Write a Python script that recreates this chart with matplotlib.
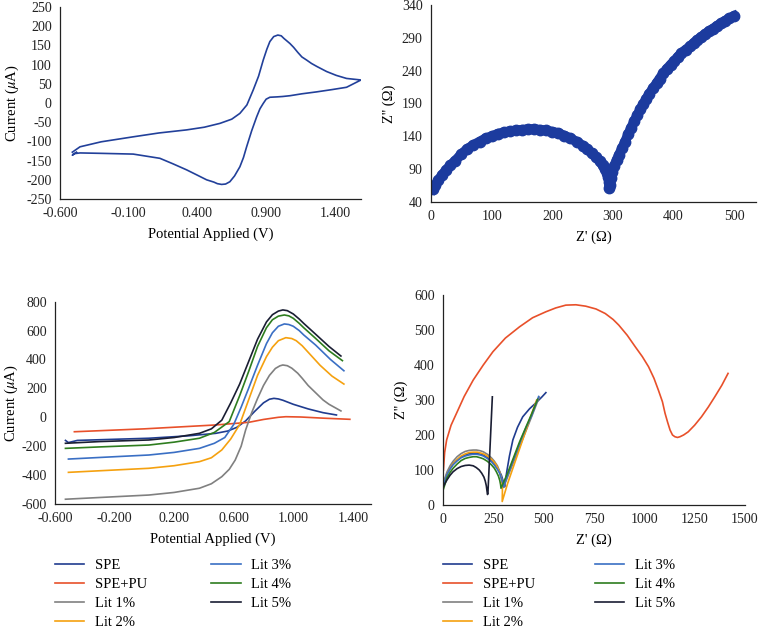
import matplotlib
matplotlib.use('Agg')
import matplotlib.pyplot as plt
from matplotlib.ticker import FormatStrFormatter

# ---- data ----
# (a) single CV scan, forward then reverse
cv_v = [-0.51, -0.454, -0.3, -0.067, 0.12, 0.321, 0.45, 0.564, 0.65, 0.709, 0.76, 0.806, 0.845, 0.879,
        0.905, 0.927, 0.955, 0.985, 1.01, 1.03, 1.05, 1.073, 1.1, 1.13, 1.16, 1.194, 1.23, 1.27, 1.34,
        1.41, 1.485, 1.59,
        1.485, 1.38, 1.267, 1.16, 1.073, 1.02, 0.98, 0.927, 0.9, 0.879, 0.855, 0.831, 0.795, 0.758, 0.735,
        0.709, 0.67, 0.636, 0.605, 0.576, 0.545, 0.52, 0.467, 0.4, 0.321, 0.22, 0.127, -0.067, -0.309,
        -0.454, -0.5, -0.51, -0.48]
cv_i = [-128, -114, -101, -88, -78, -70, -63, -53, -42, -27, -5, 34, 70, 112,
        140, 160, 173, 177, 175, 168, 162, 155, 145, 132, 120, 112, 103, 95, 82,
        72, 64, 60,
        41, 35, 29, 24, 19, 17, 16, 15, 10, -1, -15, -36, -72, -114, -142,
        -166, -190, -205, -211, -212, -210, -206, -200, -188, -174, -158, -144, -133, -131,
        -130, -132, -136, -128]

# (b) Nyquist plot of bare electrode
eis_zr = [3, 7, 12, 18, 25, 32, 40, 50, 60, 70, 80, 90, 100, 110, 120, 130, 140, 150, 160, 170, 180, 190,
          200, 210, 220, 230, 240, 250, 258, 265, 272, 278, 283, 287, 290, 292, 294, 294,
          295, 297, 299, 302, 306, 310, 315, 320, 325, 330, 335, 340, 345, 350, 355, 360, 366, 372,
          377, 383, 389, 395, 401, 407, 413, 420, 427, 433, 439, 445, 452, 458, 465, 471, 478, 485, 492, 499]
eis_zi = [60, 66, 73, 81, 89, 96, 103, 113, 121, 127, 132, 137, 140, 144, 146, 148, 149, 150, 151, 151, 150, 149,
          147, 145, 141, 137, 132, 126, 120, 114, 108, 102, 96, 90, 84, 78, 70, 62,
          66, 76, 86, 95, 104, 112, 122, 132, 143, 153, 163, 172, 181, 189, 197, 205, 213, 221,
          228, 236, 243, 249, 255, 261, 267, 272, 277, 282, 287, 291, 296, 300, 304, 308, 312, 316, 320, 323]

# (c) CV of the different electrodes
labels = ['SPE', 'SPE+PU', 'Lit 1%', 'Lit 2%', 'Lit 3%', 'Lit 4%', 'Lit 5%']
colors = ['#203c8f', '#e8502a', '#808080', '#f5a10f', '#3a6fc4', '#2e7d1f', '#1a1e33']

spe_v = [-0.53, -0.51, -0.45, 0.03, 0.3, 0.48, 0.56, 0.62, 0.68, 0.74, 0.80, 0.84, 0.87, 0.90, 0.93,
         1.0, 1.1, 1.2, 1.29]
spe_i = [-160, -175, -160, -145, -128, -111, -95, -70, -25, 40, 100, 125, 131, 127, 118,
         90, 58, 32, 16]
pu_v = [-0.47, 0.0, 0.48, 0.7, 0.8, 0.9, 0.95, 1.05, 1.2, 1.38]
pu_i = [-100, -80, -53, -35, -15, 0, 4, 2, -6, -14]
lit1_v = [-0.53, -0.3, 0.03, 0.2, 0.37, 0.45, 0.52, 0.57, 0.61, 0.65, 0.68, 0.72, 0.76, 0.80, 0.84, 0.88,
          0.91, 0.93, 0.96, 0.99, 1.03, 1.06, 1.1, 1.15, 1.2, 1.24, 1.32]
lit1_i = [-567, -555, -538, -520, -491, -460, -411, -360, -296, -200, -88, 30, 130, 220, 290, 338,
          356, 362, 357, 340, 305, 270, 220, 170, 120, 90, 44]
lit2_v = [-0.51, -0.3, 0.03, 0.2, 0.37, 0.45, 0.52, 0.58, 0.64, 0.70, 0.76, 0.82, 0.86, 0.90, 0.95,
          0.99, 1.02, 1.06, 1.1, 1.18, 1.26, 1.34]
lit2_i = [-381, -370, -353, -335, -307, -280, -226, -150, -50, 120, 290, 420, 485, 530, 551,
          545, 530, 495, 450, 360, 285, 230]
lit3_v = [-0.51, -0.3, 0.03, 0.2, 0.37, 0.47, 0.54, 0.6, 0.65, 0.70, 0.76, 0.82, 0.86, 0.9, 0.94,
          0.97, 1.0, 1.04, 1.07, 1.15, 1.25, 1.34]
lit3_i = [-289, -278, -261, -243, -215, -180, -140, -50, 70, 200, 360, 510, 585, 630, 646,
          642, 630, 600, 570, 500, 400, 322]
lit4_v = [-0.53, -0.3, 0.03, 0.2, 0.37, 0.47, 0.57, 0.64, 0.70, 0.76, 0.82, 0.86, 0.9, 0.94, 0.97,
          1.0, 1.04, 1.07, 1.15, 1.24, 1.33]
lit4_i = [-215, -205, -192, -172, -145, -105, -30, 150, 316, 490, 620, 675, 700, 708, 702,
          685, 650, 620, 546, 460, 392]
lit5_v = [-0.53, -0.3, 0.03, 0.2, 0.37, 0.45, 0.52, 0.58, 0.64, 0.70, 0.76, 0.82, 0.86, 0.9, 0.93,
          0.96, 1.0, 1.04, 1.07, 1.15, 1.24, 1.32]
lit5_i = [-180, -168, -157, -140, -111, -80, -20, 100, 230, 385, 540, 660, 710, 735, 743,
          738, 715, 680, 650, 575, 490, 424]

# (d) Nyquist plots of the different electrodes
spe_zr = [0, 20, 50, 90, 130, 166, 200, 240, 270, 290, 302, 306, 310, 318, 330, 347, 370, 396, 430, 462, 490, 511]
spe_zi = [55, 90, 118, 138, 147, 148, 143, 128, 108, 85, 62, 52, 70, 100, 140, 186, 222, 252, 275, 292, 308, 321]
pu_zr = [2, 8, 18, 40, 67, 105, 150, 200, 248, 310, 380, 445, 511, 560, 610, 660, 709, 760, 806, 845, 873,
         915, 955, 990, 1021, 1048, 1070, 1090, 1103, 1116, 1128, 1140, 1152, 1165, 1177, 1195,
         1218, 1250, 1284, 1318, 1350, 1385, 1416]
pu_zi = [100, 150, 186, 228, 262, 310, 357, 400, 438, 477, 509, 535, 552, 563, 571, 572, 568, 560, 547, 530, 514,
         485, 452, 424, 395, 362, 328, 295, 262, 236, 214, 200, 195, 193, 195, 200,
         209, 228, 252, 280, 309, 342, 376]
lit1_zr = [0, 10, 20, 35, 50, 70, 90, 110, 130, 150, 166, 185, 200, 220, 240, 255, 270, 280, 289, 295, 298,
           300, 345, 390, 435, 478]
lit1_zi = [58, 78, 95, 112, 125, 138, 147, 153, 156, 157, 157, 155, 152, 145, 135, 125, 112, 98, 80, 67, 57,
           50, 115, 180, 245, 308]
lit2_zr = [0, 10, 20, 35, 50, 70, 90, 110, 130, 150, 170, 190, 205, 225, 245, 260, 272, 282, 290, 294, 295,
           294, 320, 350, 380, 410, 440, 465]
lit2_zi = [50, 70, 88, 104, 118, 130, 140, 146, 150, 151, 151, 148, 145, 138, 128, 118, 105, 92, 75, 58, 40,
           10, 60, 110, 160, 210, 260, 300]
lit3_zr = [0, 10, 20, 35, 50, 70, 90, 110, 130, 150, 166, 185, 200, 220, 240, 255, 270, 282, 290, 297, 300,
           330, 360, 390, 415, 440, 475]
lit3_zi = [52, 71, 88, 103, 115, 126, 135, 140, 143, 145, 145, 143, 140, 133, 124, 114, 102, 90, 75, 62, 52,
           100, 145, 190, 225, 255, 310]
lit4_zr = [0, 10, 20, 35, 50, 70, 90, 110, 130, 150, 166, 185, 200, 220, 240, 255, 265, 275, 282, 286, 288,
           320, 350, 380, 410, 440, 470]
lit4_zi = [42, 60, 78, 93, 105, 117, 127, 133, 136, 138, 138, 135, 132, 125, 115, 105, 95, 83, 70, 58, 48,
           90, 135, 180, 220, 260, 302]
lit5_zr = [0, 10, 20, 35, 50, 70, 90, 110, 130, 150, 165, 180, 192, 203, 210, 215, 218, 221, 223, 245]
lit5_zi = [50, 62, 72, 85, 95, 104, 110, 113, 114, 112, 107, 100, 91, 80, 68, 55, 42, 30, 33, 309]

plt.rcParams['font.family'] = ['Liberation Serif', 'DejaVu Serif']
plt.rcParams['mathtext.fontset'] = 'stix'
plt.rcParams['axes.unicode_minus'] = False
plt.rcParams['font.size'] = 10

fig = plt.figure(figsize=(7.59, 6.33), dpi=100)
ax1 = fig.add_axes([0.079, 0.6856, 0.3966, 0.3033])
ax2 = fig.add_axes([0.5679, 0.6809, 0.4282, 0.3112])
ax3 = fig.add_axes([0.0725, 0.2038, 0.4159, 0.3196])
ax4 = fig.add_axes([0.5837, 0.2022, 0.3978, 0.3318])

def style(ax):
    for s in ['top', 'right']:
        ax.spines[s].set_visible(False)
    for s in ['left', 'bottom']:
        ax.spines[s].set_color('#222222')
        ax.spines[s].set_linewidth(0.9)
    ax.tick_params(length=0, pad=6, labelsize=10, colors='#222222')

# top left
ax1.plot(cv_v, cv_i, color='#22409a', lw=1.2)
ax1.set_xlim(-0.6, 1.59)
ax1.set_ylim(-250, 250)
ax1.set_xticks([-0.6, -0.1, 0.4, 0.9, 1.4])
ax1.set_yticks(range(-250, 251, 50))
ax1.xaxis.set_major_formatter(FormatStrFormatter('%.3f'))
ax1.set_xlabel('Potential Applied (V)', fontsize=10.5, labelpad=5)
ax1.set_ylabel(r'Current ($\mu$A)', fontsize=10.5, labelpad=4)
style(ax1)

# top right
ax2.plot(eis_zr, eis_zi, 'o-', color='#1c3b9e', ms=7.5, lw=7)
ax2.set_xlim(0, 536)
ax2.set_ylim(40, 340)
ax2.set_xticks(range(0, 501, 100))
ax2.set_yticks(range(40, 341, 50))
ax2.set_xlabel("Z' (Ω)", fontsize=10.5, labelpad=5)
ax2.set_ylabel("Z'' (Ω)", fontsize=10.5, labelpad=4)
style(ax2)

# bottom left
cv_sets = [(spe_v, spe_i), (pu_v, pu_i), (lit1_v, lit1_i), (lit2_v, lit2_i),
           (lit3_v, lit3_i), (lit4_v, lit4_i), (lit5_v, lit5_i)]
lines = []
for (v, i), lab, c in zip(cv_sets, labels, colors):
    ln, = ax3.plot(v, i, color=c, lw=1.2, label=lab)
    lines.append(ln)
ax3.set_xlim(-0.6, 1.52)
ax3.set_ylim(-600, 800)
ax3.set_xticks([-0.6, -0.2, 0.2, 0.6, 1.0, 1.4])
ax3.set_yticks(range(-600, 801, 200))
ax3.xaxis.set_major_formatter(FormatStrFormatter('%.3f'))
ax3.set_xlabel('Potential Applied (V)', fontsize=10.5, labelpad=5)
ax3.set_ylabel(r'Current ($\mu$A)', fontsize=10.5, labelpad=1)
style(ax3)

# bottom right
eis_sets = [(spe_zr, spe_zi), (pu_zr, pu_zi), (lit1_zr, lit1_zi), (lit2_zr, lit2_zi),
            (lit3_zr, lit3_zi), (lit4_zr, lit4_zi), (lit5_zr, lit5_zi)]
for (zr, zi), lab, c in zip(eis_sets, labels, colors):
    ax4.plot(zr, zi, color=c, lw=1.2, label=lab)
ax4.set_xlim(0, 1500)
ax4.set_ylim(0, 600)
ax4.set_xticks(range(0, 1501, 250))
ax4.set_yticks(range(0, 601, 100))
ax4.set_xlabel("Z' (Ω)", fontsize=10.5, labelpad=5)
ax4.set_ylabel("Z'' (Ω)", fontsize=10.5, labelpad=4)
style(ax4)

# legends under the bottom panels
for x0, cs in [(55 / 759, 4.4), (443 / 759, 4.1)]:
    fig.legend(lines, labels, ncol=2, loc='upper left', bbox_to_anchor=(x0, 1 - 559 / 633),
               frameon=False, fontsize=10.5, handlelength=2.0, handletextpad=0.75,
               columnspacing=cs, labelspacing=0.4, borderpad=0, borderaxespad=0)

fig.savefig('out.png', dpi=100)
